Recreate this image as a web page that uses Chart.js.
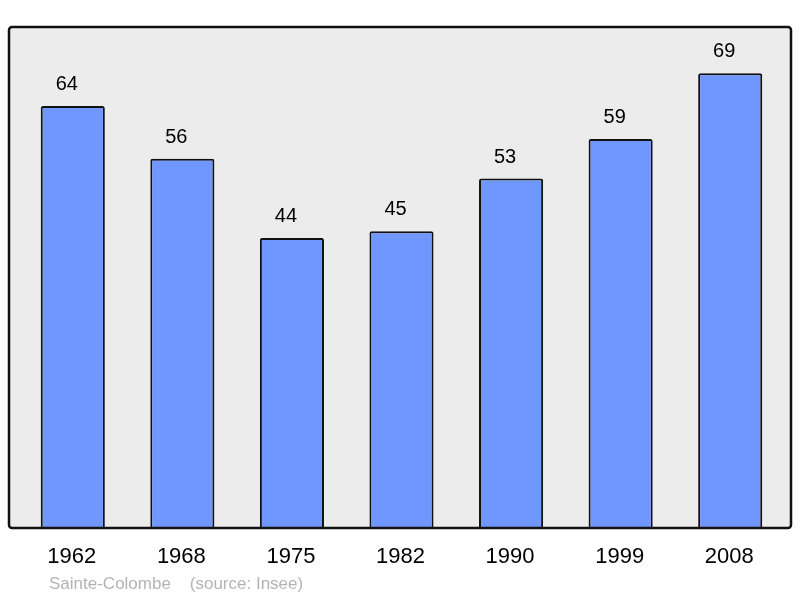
<!DOCTYPE html>
<html><head><meta charset="utf-8">
<script src="https://cdn.jsdelivr.net/npm/chart.js@4"></script>
<style>html,body{margin:0;padding:0;background:#fff}#c{display:block}</style>
</head><body>
<canvas id="c" width="800" height="598"></canvas>
<script>
const categories = ["1962","1968","1975","1982","1990","1999","2008"];
const populations = [64,56,44,45,53,59,69];
const footerText = "Sainte-Colombe    (source: Insee)";

const FONT = '"Liberation Sans", Arial, sans-serif';

const framePlugin = {
  id: 'frame',
  beforeDatasetsDraw(chart) {
    const ctx = chart.ctx, a = chart.chartArea;
    const x0 = 9, x1 = 791, y0 = a.top, y1 = a.bottom;
    ctx.save();
    ctx.beginPath();
    ctx.roundRect(x0, y0, x1 - x0, y1 - y0, 3);
    ctx.fillStyle = '#ececec';
    ctx.fill();
    ctx.restore();
  },
  afterDatasetsDraw(chart) {
    const ctx = chart.ctx, a = chart.chartArea;
    const x0 = 9, x1 = 791, y0 = a.top, y1 = a.bottom;
    ctx.save();
    ctx.beginPath();
    ctx.roundRect(x0, y0, x1 - x0, y1 - y0, 3);
    ctx.lineWidth = 2.5;
    ctx.strokeStyle = '#111';
    ctx.stroke();
    const xs = chart.scales.x, ys = chart.scales.y;
    ctx.fillStyle = '#000';
    ctx.textAlign = 'center';
    ctx.textBaseline = 'middle';
    ctx.font = '20px ' + FONT;
    populations.forEach((v, i) => {
      ctx.fillText(String(v), xs.getPixelForValue(i) - 6, ys.getPixelForValue(v) - 21.5);
    });
    ctx.font = '22px ' + FONT;
    categories.forEach((c, i) => {
      ctx.fillText(c, xs.getPixelForValue(i) - 1, 557);
    });
    ctx.textAlign = 'left';
    ctx.font = '17px ' + FONT;
    ctx.fillStyle = '#b4b4b4';
    ctx.fillText(footerText, 49, 584);
    ctx.restore();
  }
};

new Chart(document.getElementById('c'), {
  type: 'bar',
  data: {
    labels: categories,
    datasets: [{
      data: populations,
      backgroundColor: '#7096ff',
      borderColor: '#111',
      borderWidth: 2,
      borderRadius: 2,
      borderSkipped: 'bottom',
      categoryPercentage: 1,
      barPercentage: 0.585
    }]
  },
  options: {
    responsive: false,
    animation: false,
    events: [],
    layout: { padding: { left: 18, right: 15, top: 27, bottom: 70 } },
    plugins: { legend: { display: false }, tooltip: { enabled: false } },
    scales: {
      x: { display: false },
      y: { display: false, min: 0, max: 76 }
    }
  },
  plugins: [framePlugin]
});
</script>
</body></html>
